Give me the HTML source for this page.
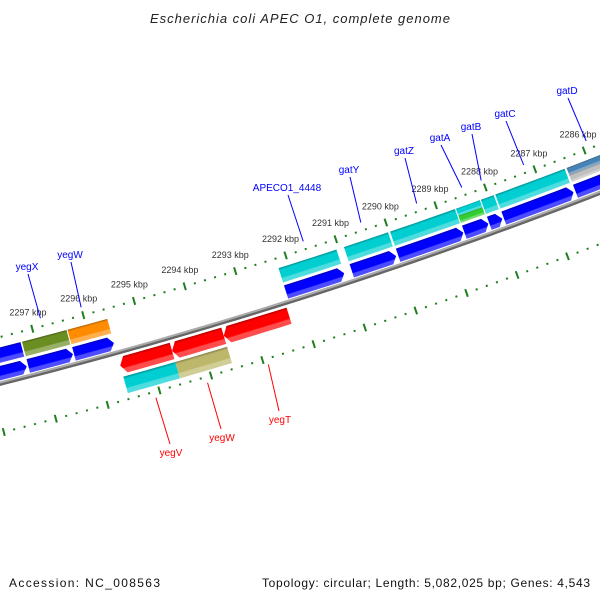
<!DOCTYPE html>
<html><head><meta charset="utf-8"><style>
html,body{margin:0;padding:0;background:#fff}
svg{display:block;font-family:"Liberation Sans",sans-serif}
</style></head><body>
<svg id="map" width="600" height="600" viewBox="0 0 600 600" xmlns="http://www.w3.org/2000/svg">
<defs id="defs"></defs>
<rect width="600" height="600" fill="#fff"/>
<text x="300" y="23" text-anchor="middle" font-size="13" font-style="italic" fill="#222" textLength="300">Escherichia coli APEC O1, complete genome</text>
<g id="plot"></g>
<text x="9" y="587" font-size="12" fill="#111" textLength="151">Accession: NC_008563</text>
<text x="590" y="587" font-size="12" fill="#111" text-anchor="end" textLength="328">Topology: circular; Length: 5,082,025 bp; Genes: 4,543</text>
</svg>
<script>
// ---- data (kbp) ----
const fwdNames  = ["gene-left","yegX","yegW","APECO1_4448","gatY","gatZ","gatA","gatB","gatC","gatD"];
const fwdStart  = [2298.6, 2297.25, 2296.36, 2292.2, 2290.9, 2289.98, 2288.66, 2288.16, 2287.87, 2286.43];
const fwdEnd    = [2297.28, 2296.38, 2295.58, 2291.05, 2290.02, 2288.68, 2288.18, 2287.9, 2286.47, 2285.0];
const fwdCog    = [["#0000FF"],["#6B8E23"],["#FF8C00"],["#00CED1"],["#00CED1"],["#00CED1"],["#00CED1","#32CD32"],["#00CED1"],["#00CED1"],["#4682B4","#C0C0C0"]];
const revNames  = ["yegV","yegW-rev","yegT"];
const revStart  = [2295.58, 2294.57, 2293.56];
const revEnd    = [2294.57, 2293.56, 2292.28];
const revCog    = [["#00CED1"],["#BDB76B"],[]];
const tickMin = 2284, tickMax = 2299;
const upLabels  = ["yegX","yegW","APECO1_4448","gatY","gatZ","gatA","gatB","gatC","gatD"];
const upLabelKbp = [2296.8, 2296.0, 2291.6, 2290.45, 2289.33, 2288.42, 2288.03, 2287.17, 2285.9];
const upLabelPos = [[27,266],[70,254],[287,187],[349,169],[404,150],[440,137],[471,126],[505,113],[567,90]];
const dnLabels  = ["yegV","yegW","yegT"];
const dnLabelKbp = [2295.1, 2294.1, 2292.92];
const dnLabelPos = [[171,452],[222,437],[280,419]];

// ---- geometry ----
const CX=-1268, CY=-4641;
const R_TICK_UP=5137, R_COG_UP=[5147,5162], R_FWD=[5165,5179], R_BB=5182, R_REV=[5187,5204], R_COG_DN=[5207,5224], R_TICK_DN=5230;
function phi(k){return 0.26617+(2296-k)*0.010269;}
function pt(k,r){const p=phi(k);return [CX+r*Math.sin(p), CY+r*Math.cos(p)];}
const NS="http://www.w3.org/2000/svg";
const plot=document.getElementById('plot'), defs=document.getElementById('defs');
function mk(tag,attrs,parent){const e=document.createElementNS(NS,tag);for(const a in attrs)e.setAttribute(a,attrs[a]);(parent||plot).appendChild(e);return e;}
function poly(pts){return pts.map(p=>p[0].toFixed(2)+","+p[1].toFixed(2)).join(" ");}
function shade(hex,f){let n=parseInt(hex.slice(1),16);let r=n>>16,g=(n>>8)&255,b=n&255;
  if(f<0){r*=1+f;g*=1+f;b*=1+f;}else{r+=(255-r)*f;g+=(255-g)*f;b+=(255-b)*f;}
  return "rgb("+Math.round(r)+","+Math.round(g)+","+Math.round(b)+")";}
let gid=0;
function grad(k,r1,r2,col){const id="g"+(gid++);const a=pt(k,r1),b=pt(k,r2);
  const g=mk('linearGradient',{id:id,gradientUnits:"userSpaceOnUse",x1:a[0],y1:a[1],x2:b[0],y2:b[1]},defs);
  [[0,shade(col,-0.3)],[0.15,col],[0.65,col],[0.72,shade(col,0.3)],[1,shade(col,0.3)]].forEach(s=>mk('stop',{offset:s[0],'stop-color':s[1]},g));
  return "url(#"+id+")";}
function sample(k1,k2,r){const n=Math.max(2,Math.ceil(Math.abs(k1-k2)*4));const o=[];for(let i=0;i<=n;i++)o.push(pt(k1+(k2-k1)*i/n,r));return o;}
function box(k1,k2,r1,r2,col,name){
  const pts=sample(k1,k2,r1).concat(sample(k2,k1,r2));
  const e=mk('polygon',{points:poly(pts),fill:grad((k1+k2)/2,r1,r2,col)});
  
  }
function arrow(k1,k2,r1,r2,col,name){ // points toward k2
  const head=0.1*Math.sign(k1-k2), kh=k2+head, rm=(r1+r2)/2;
  const pts=sample(k1,kh,r1).concat([pt(k2,rm)]).concat(sample(kh,k1,r2));
  const e=mk('polygon',{points:poly(pts),fill:grad((k1+k2)/2,r1,r2,col)});
  
  }

// backbone
const bb1=mk('polyline',{points:poly(sample(tickMax,tickMin,R_BB-1)),fill:"none",stroke:"#aaaaaa","stroke-width":2});


const bb2=mk('polyline',{points:poly(sample(tickMax,tickMin,R_BB+1.2)),fill:"none",stroke:"#666666","stroke-width":2.4});



// ticks
[R_TICK_UP,R_TICK_DN].forEach((R,ri)=>{
  for(let i=tickMin*5;i<=tickMax*5;i++){const k=i/5;const major=(i%5===0);
    const a=pt(k,R-(major?4:1)),b=pt(k,R+(major?4:1));
    const t=mk('line',{x1:a[0],y1:a[1],x2:b[0],y2:b[1],stroke:"#1f7f1f","stroke-width":2});
    
    
    if(major&&ri===0){const p=pt(k,R-17);
      const tx=mk('text',{x:p[0],y:p[1]+3,"text-anchor":"middle","font-size":9,fill:"#333"});
      tx.textContent=k+" kbp";
      
      }
  }});

// genes
for(let i=0;i<fwdNames.length;i++){
  const cols=fwdCog[i];const h=(R_COG_UP[1]-R_COG_UP[0])/cols.length;
  cols.forEach((c,j)=>box(fwdStart[i],fwdEnd[i],R_COG_UP[0]+j*h,R_COG_UP[0]+(j+1)*h,c,'cog-'+fwdNames[i]));
  arrow(fwdStart[i],fwdEnd[i],R_FWD[0],R_FWD[1],"#0000FF",'fwd-gene-'+fwdNames[i]);
}
for(let i=0;i<revNames.length;i++){
  arrow(revEnd[i],revStart[i],R_REV[0],R_REV[1],"#FF0000",'rev-gene-'+revNames[i]);
  const cols=revCog[i];if(!cols.length)continue;const h=(R_COG_DN[1]-R_COG_DN[0])/cols.length;
  cols.forEach((c,j)=>box(revStart[i],revEnd[i],R_COG_DN[0]+j*h,R_COG_DN[0]+(j+1)*h,c,'cog-'+revNames[i]));
}

// labels
upLabels.forEach((n,i)=>{const p=upLabelPos[i],e=pt(upLabelKbp[i],5129);
  const l=mk('line',{x1:p[0]+1,y1:p[1]+8,x2:e[0],y2:e[1],stroke:"#0000ff","stroke-width":1});
  
  
  const t=mk('text',{x:p[0],y:p[1]+4,"text-anchor":"middle","font-size":10,fill:"#0000ff"});t.textContent=n;
  
  });
dnLabels.forEach((n,i)=>{const p=dnLabelPos[i],e=pt(dnLabelKbp[i],5236);
  const l=mk('line',{x1:e[0],y1:e[1],x2:p[0]-1,y2:p[1]-8,stroke:"#ff0000","stroke-width":1});
  
  
  const t=mk('text',{x:p[0],y:p[1]+4,"text-anchor":"middle","font-size":10,fill:"#ff0000"});t.textContent=n;
  
  });
</script>
</body></html>
